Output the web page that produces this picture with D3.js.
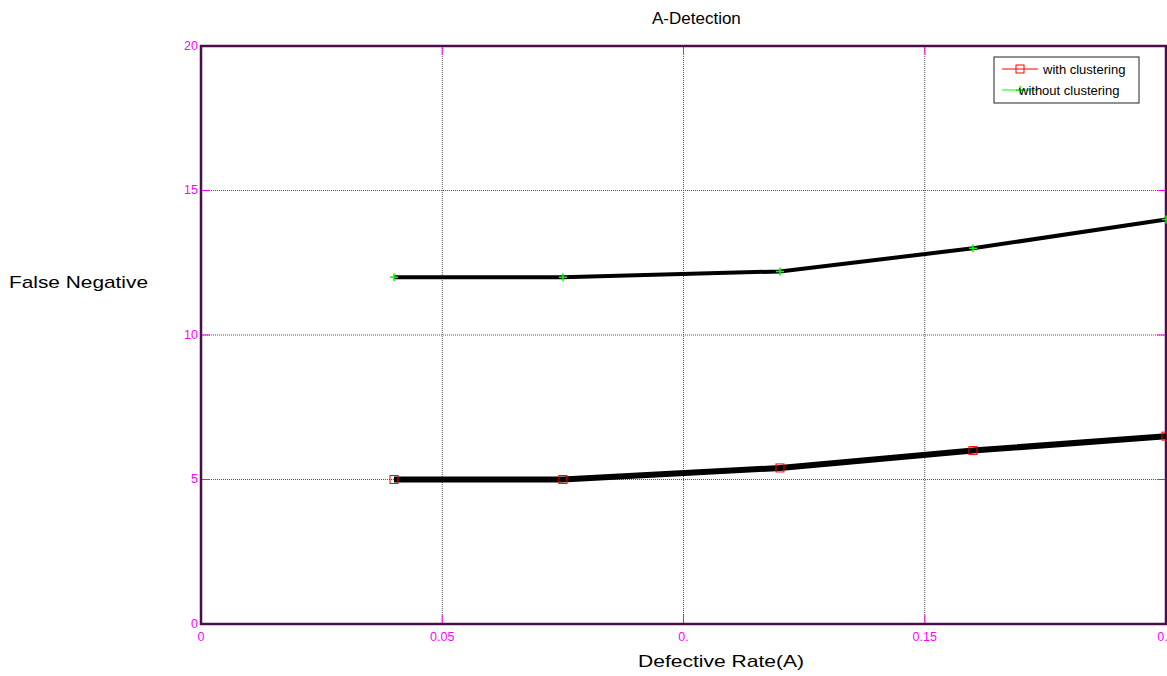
<!DOCTYPE html>
<html>
<head>
<meta charset="utf-8">
<script src="https://cdn.jsdelivr.net/npm/d3@7"></script>
<style>
  body { margin: 0; background: #fff; }
  svg { display: block; font-family: Arial, "Liberation Sans", sans-serif; }
</style>
</head>
<body>
<script>
// data
const rates = [0.04, 0.075, 0.12, 0.16, 0.2];
const withClustering = [5, 5, 5.4, 6, 6.5];
const withoutClustering = [12, 12, 12.2, 13, 14];
const xTicks = [0, 0.05, 0.1, 0.15, 0.2];
const xTickLabels = ["0", "0.05", "0.", "0.15", "0.2"];
const yTicks = [0, 5, 10, 15, 20];
const seriesNames = ["with clustering", "without clustering"];

const W = 1167, H = 676;
const margin = {top: 46, right: 1, bottom: 52, left: 201};
const width = W - margin.left - margin.right,
    height = H - margin.top - margin.bottom;

const x = d3.scaleLinear().domain([0, 0.2]).range([0, width]);
const y = d3.scaleLinear().domain([0, 20]).range([height, 0]);

const svg = d3.select("body").append("svg")
    .attr("width", W)
    .attr("height", H);

const g = svg.append("g")
    .attr("transform", "translate(" + margin.left + "," + margin.top + ")");

// grid
g.append("g")
    .selectAll("line")
    .data(xTicks.slice(1, -1))
    .enter().append("line")
    .attr("x1", d => x(d)).attr("x2", d => x(d))
    .attr("y1", 0).attr("y2", height)
    .attr("stroke", "#555").attr("stroke-width", 1)
    .attr("stroke-dasharray", "1,1");
g.append("g")
    .selectAll("line")
    .data(yTicks.slice(1, -1))
    .enter().append("line")
    .attr("x1", 0).attr("x2", width)
    .attr("y1", d => y(d)).attr("y2", d => y(d))
    .attr("stroke", "#555").attr("stroke-width", 1)
    .attr("stroke-dasharray", "1,1");

// magenta tick marks (inside)
const tickColor = "#ff00ff";
xTicks.forEach(t => {
    g.append("line").attr("x1", x(t)).attr("x2", x(t))
        .attr("y1", height).attr("y2", height - 9)
        .attr("stroke", tickColor).attr("stroke-width", 1);
    g.append("line").attr("x1", x(t)).attr("x2", x(t))
        .attr("y1", 0).attr("y2", 9)
        .attr("stroke", tickColor).attr("stroke-width", 1);
});
yTicks.forEach(t => {
    g.append("line").attr("x1", 0).attr("x2", 9)
        .attr("y1", y(t)).attr("y2", y(t))
        .attr("stroke", tickColor).attr("stroke-width", 1);
    g.append("line").attr("x1", width).attr("x2", width - 9)
        .attr("y1", y(t)).attr("y2", y(t))
        .attr("stroke", tickColor).attr("stroke-width", 1);
});

// tick labels
g.append("g")
    .selectAll("text")
    .data(xTicks)
    .enter().append("text")
    .attr("x", d => x(d))
    .attr("y", height + 17)
    .attr("text-anchor", "middle")
    .attr("font-size", 12.5)
    .attr("fill", tickColor)
    .text((d, i) => xTickLabels[i]);
g.append("g")
    .selectAll("text")
    .data(yTicks)
    .enter().append("text")
    .attr("x", -3)
    .attr("y", d => y(d))
    .attr("dy", "0.3em")
    .attr("text-anchor", "end")
    .attr("font-size", 12.5)
    .attr("fill", tickColor)
    .text(d => d);

// frame
g.append("rect")
    .attr("x", 0).attr("y", 0)
    .attr("width", width).attr("height", height)
    .attr("fill", "none")
    .attr("stroke", "#4a0f48").attr("stroke-width", 2.5);

// lines
const line = d3.line()
    .x((d, i) => x(rates[i]))
    .y(d => y(d));

g.append("path")
    .datum(withoutClustering)
    .attr("d", line)
    .attr("fill", "none")
    .attr("stroke", "#000")
    .attr("stroke-width", 4);

g.append("path")
    .datum(withClustering)
    .attr("d", line)
    .attr("fill", "none")
    .attr("stroke", "#000")
    .attr("stroke-width", 6);

// markers
g.append("g")
    .selectAll("rect")
    .data(withClustering)
    .enter().append("rect")
    .attr("x", (d, i) => x(rates[i]) - 4)
    .attr("y", d => y(d) - 4)
    .attr("width", 8).attr("height", 8)
    .attr("fill", "none")
    .attr("stroke", "#ff0000").attr("stroke-width", 1);

g.append("g")
    .selectAll("path")
    .data(withoutClustering)
    .enter().append("path")
    .attr("d", (d, i) => {
        const cx = x(rates[i]), cy = y(d);
        return "M" + (cx - 4) + "," + cy + "H" + (cx + 4) + "M" + cx + "," + (cy - 4) + "V" + (cy + 4);
    })
    .attr("stroke", "#00ff00").attr("stroke-width", 1.5);

// legend
const lg = svg.append("g").attr("transform", "translate(994,57)");
lg.append("rect")
    .attr("width", 145).attr("height", 46)
    .attr("fill", "#fff")
    .attr("stroke", "#222").attr("stroke-width", 1);
lg.append("line").attr("x1", 8).attr("x2", 44).attr("y1", 12).attr("y2", 12)
    .attr("stroke", "#ff0000").attr("stroke-width", 1);
lg.append("rect").attr("x", 22).attr("y", 8).attr("width", 8).attr("height", 8)
    .attr("fill", "none").attr("stroke", "#ff0000");
lg.append("text").attr("x", 49).attr("y", 16.5)
    .attr("font-size", 13).attr("fill", "#000").text(seriesNames[0]);
lg.append("line").attr("x1", 8).attr("x2", 44).attr("y1", 33).attr("y2", 33)
    .attr("stroke", "#00ff00").attr("stroke-width", 1);
lg.append("path").attr("d", "M22,33H30M26,29V37")
    .attr("stroke", "#00ff00").attr("stroke-width", 1.5);
lg.append("text").attr("x", 25).attr("y", 37.5)
    .attr("font-size", 13).attr("fill", "#000").text(seriesNames[1]);

// titles
svg.append("text")
    .attr("x", 652)
    .attr("y", 24)
    .attr("font-size", 17)
    .text("A-Detection");
svg.append("text")
    .attr("x", 638)
    .attr("y", 667)
    .attr("font-size", 17)
    .attr("textLength", 166)
    .attr("lengthAdjust", "spacingAndGlyphs")
    .text("Defective Rate(A)");
svg.append("text")
    .attr("x", 9)
    .attr("y", 288)
    .attr("font-size", 17)
    .attr("textLength", 139)
    .attr("lengthAdjust", "spacingAndGlyphs")
    .text("False Negative");
</script>
</body>
</html>
